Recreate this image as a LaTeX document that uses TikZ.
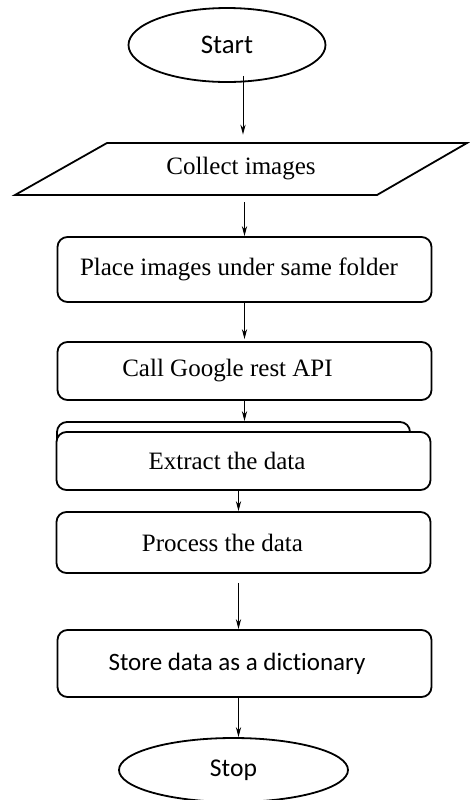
\documentclass[tikz,border=0pt]{standalone}
\usepackage{fontspec}
\setmainfont{Liberation Serif}
\newfontfamily\carlito[Ligatures=NoCommon]{Carlito}
\usetikzlibrary{shapes.geometric,arrows.meta}

\begin{document}
\begin{tikzpicture}[x=0.5pt,y=-0.5pt,
  font=\fontsize{12.5pt}{15pt}\selectfont,
  >={Stealth[length=5pt,width=2.6pt]},
  term/.style={draw,ellipse,line width=0.9pt,inner sep=0pt},
  io/.style={minimum height=26pt,inner sep=0pt},
  proc/.style={draw,rounded corners=5pt,minimum width=187pt,minimum height=29pt,line width=0.9pt},
  arr/.style={->,line width=0.5pt}]
\useasboundingbox (0,0) rectangle (470,800);

\node[term,minimum width=98.5pt,minimum height=37pt,font=\carlito\fontsize{13.4pt}{15pt}\selectfont] (start) at (227,45) {Start};
\node[io] (collect) at (241,169) {Collect images};
\draw[line width=0.9pt] (collect.center) ++(-134,-26) -- ++(360,0) -- ++(-90,52) -- ++(-362,0) -- cycle;
\node[proc,minimum height=32.5pt] (place) at (244.5,269.5) {Place images under same folder\hspace*{5.5pt}};
\node[proc] (call) at (244.5,371) {Call Google rest API\hspace*{17pt}};
\node[proc,minimum width=176.5pt] (extractback) at (233.5,451) {};
\node[proc,fill=white] (extract) at (243.5,461) {Extract the data\hspace*{16.5pt}};
\node[proc,minimum height=30.5pt] (process) at (243.5,542.5) {Process the data\hspace*{21pt}};
\node[proc,minimum height=33.5pt] (store) at (244.5,663.5) {\carlito Store data as a dictionary\hspace*{7.5pt}};
\node[term,minimum width=114.5pt,minimum height=32pt,font=\carlito\fontsize{12.8pt}{15pt}\selectfont] (stop) at (233.5,770) {Stop};

% connectors
\draw[arr] ([xshift=8pt,yshift=3.5pt]start.south) -- ([xshift=8pt,yshift=4pt]start.south |- collect.north);
\draw[arr] (place.north |- collect.south) ++(0,7) -- (place.north);
\draw[arr] (place.south) -- ([yshift=1pt]call.north);
\draw[arr] (call.south) -- (call.south |- extractback.north);
\draw[arr] ([xshift=-2.5pt]extract.south) -- ([xshift=-2.5pt]process.north);
\draw[arr] ([xshift=-2.5pt,yshift=-4.5pt]process.south) -- ([xshift=-3pt]store.north);
\draw[arr] ([xshift=-3pt]store.south) -- ([xshift=-3pt]store.south |- stop.north);
\end{tikzpicture}
\end{document}
